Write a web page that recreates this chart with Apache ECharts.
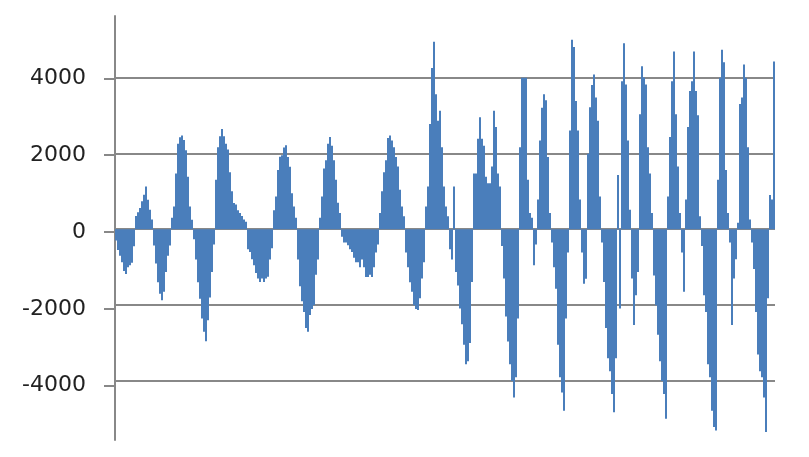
<!DOCTYPE html>
<html>
<head>
<meta charset="utf-8">
<script src="https://cdn.jsdelivr.net/npm/echarts@6/dist/echarts.min.js"></script>
<style>
html,body{margin:0;padding:0;background:#fff;}
#chart{width:809px;height:457px;}
</style>
</head>
<body>
<div id="chart"></div>
<script>
// values, left to right (one bar per sample)
var segA = [
  -300,-550,-700,-870,-1100,-1180,-1000,-950,-880,-450,
  350,450,560,740,906,1125,776,516,255,
  -430,-900,-1400,-1700,-1870,-1650,-1130,-700,-430,
  300,600,1470,2250,2420,2470,2350,2080,1385,600,250,
  -265,-800,-1400,-1830,-2350,-2700,-2950,-2400,-1800,-1130,-400
];
var segB = [
  1300,2160,2450,2640,2450,2250,2100,1500,1000,690,650,500,430,350,255,200,
  -525,-600,-790,-950,-1150,-1300,-1390,-1300,-1390,-1300,-1250,-800,-500,
  500,865,1557,1906,1950,2150,2210,1900,1646,950,600,300,
  -800,-1500,-1900,-2180,-2600,-2700,-2260,-2100,-2000,-1200,-800,
  300,865,1600,1818,2250,2427,2200,1818,1300,700,430
];
var segC = [
  -200,-350,-350,-420,-525,-600,-750,-870,-870,-1000,-800,-1000,-1260,-1260,-1200,-1260,-1000,-610,-400,
  430,1000,1500,1818,2400,2470,2340,2160,1900,1650,1040,600,340,
  -610,-1000,-1400,-1650,-2000,-2100,-2130,-1820,-1300,-870,
  600,1125,2770,4250,4940,3555,2860,3120,2160,1125,600,340,
  -525,-800,1125,-1130,-1480,-2090,-2500,-3040,-3560,-3476,-3000,-1390
];
var segD = [
  1470,1470,2380,2950,2380,2200,1385,1210,1210,1650,3120,2690,1470,1125,
  -440,-1300,-2300,-2955,-3560,-4000,-4430,-3900,-2350,
  2160,3990,3990,3990,1300,430,300,
  -950,-400,
  780,2340,3200,3555,3400,1900,430,
  -350,-1000,-1567,-3040,-3900,-4300,-4780,-2350,-610,
  2600,4990,4800,3380,2600,780,
  -610,-1437,-1307,
  1990,3210,3800,4075,3470,2860,865
];
var segE = [
  -350,-1390,-2600,-3400,-3740,-4340,-4820,-3400,
  1430,-2090,
  3900,4900,3815,2340,516,
  -1300,-2520,-1740,-1130,
  3030,4290,4000,3815,2160,1470,430,
  -1220,-2000,-2780,-3480,-4000,-4340,-4995,
  865,2430,3900,4680,3030,1650,430,
  -610,-1650,
  780,2690,3640,3900,4680,3640,3000,340,
  -440,-1740,-2180,-3560,-3900,-4780,-5210,-5300,
  1300,3990,4725,4400,1560,430,
  -350,-2520,-1300,-790,
  170,3300,3470,4340,3990,2160,255,
  -350,-1046,-2180,-3300,-3740,-3900,-4430,-5340,-1820,
  900,780,4420
];
// axis: gridlines every 2000, labelled from -4000 to 4000
var axisMin = -6000, axisMax = 6000, axisStep = 2000;
var labelMin = -4000, labelMax = 4000;

var values = segA.concat(segB, segC, segD, segE);
var categories = [];
for (var i = 0; i < values.length; i++) categories.push(String(i + 1));

var GRAY = '#888888';
var chart = echarts.init(document.getElementById('chart'), null, {renderer: 'canvas'});
chart.setOption({
  animation: false,
  backgroundColor: '#ffffff',
  grid: [
    {left: 115, top: 1.45, width: 660, height: 461.1, containLabel: false},
    {left: 115, top: 16, width: 660, height: 424, containLabel: false},
    {left: 115, top: 78.3, width: 660, height: 307.4, containLabel: false}
  ],
  xAxis: [
    {type: 'category', gridIndex: 0, data: categories,
     axisLine: {show: false}, axisTick: {show: false}, axisLabel: {show: false}, splitLine: {show: false}},
    {type: 'category', gridIndex: 1, data: categories, show: false},
    {type: 'category', gridIndex: 2, data: categories, show: false}
  ],
  yAxis: [
    {type: 'value', gridIndex: 0, min: axisMin, max: axisMax, interval: axisStep,
     axisLine: {show: false}, axisTick: {show: false}, axisLabel: {show: false},
     splitLine: {show: true, showMinLine: false, showMaxLine: false,
                 lineStyle: {color: GRAY, width: 2}}},
    {type: 'value', gridIndex: 1, min: 0, max: 1,
     axisLine: {show: true, lineStyle: {color: GRAY, width: 2}},
     axisTick: {show: false}, axisLabel: {show: false}, splitLine: {show: false}},
    {type: 'value', gridIndex: 2, min: labelMin, max: labelMax, interval: axisStep,
     axisLine: {show: false},
     axisTick: {show: true, inside: false, length: 11, lineStyle: {color: GRAY, width: 2}},
     axisLabel: {show: true, margin: 29, fontSize: 22, fontFamily: 'DejaVu Sans', color: '#222222',
                 showMinLabel: true, showMaxLabel: true,
                 formatter: function (v) { return String(v); }},
     splitLine: {show: false}}
  ],
  series: [{
    type: 'bar',
    xAxisIndex: 0, yAxisIndex: 0,
    data: values,
    barCategoryGap: '0%',
    barGap: '0%',
    itemStyle: {color: '#4a7ebb'},
    silent: true
  }]
});
</script>
</body>
</html>
